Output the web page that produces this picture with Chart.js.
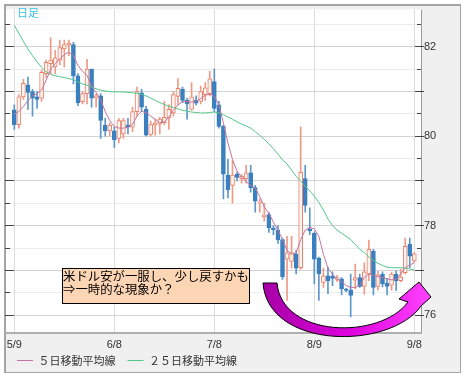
<!DOCTYPE html>
<html>
<head>
<meta charset="utf-8">
<script src="https://cdn.jsdelivr.net/npm/chart.js@4.4.0/dist/chart.umd.min.js"></script>
<style>
html, body { margin: 0; padding: 0; background: #fff; }
#wrap { width: 466px; height: 376px; }
</style>
</head>
<body>
<div id="wrap"><canvas id="myChart" width="466" height="376"></canvas></div>
<script>
// trading days, 2011
var dates = ['5/9','5/10','5/11','5/12','5/13','5/16','5/17','5/18','5/19','5/20','5/23','5/24','5/25','5/26','5/27','5/30','5/31',
    '6/1','6/2','6/3','6/6','6/7','6/8','6/9','6/10','6/13','6/14','6/15','6/16','6/17','6/20','6/21','6/22','6/23','6/24','6/27','6/28','6/29','6/30',
    '7/1','7/4','7/5','7/6','7/7','7/8','7/11','7/12','7/13','7/14','7/15','7/18','7/19','7/20','7/21','7/22','7/25','7/26','7/27','7/28','7/29',
    '8/1','8/2','8/3','8/4','8/5','8/8','8/9','8/10','8/11','8/12','8/15','8/16','8/17','8/18','8/19','8/22','8/23','8/24','8/25','8/26','8/29','8/30','8/31',
    '9/1','9/2','9/5','9/6','9/7','9/8'];

var openP = [80.59,80.26,80.88,81.15,81.00,80.88,80.85,81.40,81.62,81.55,
    81.70,81.95,82.04,82.05,81.35,80.77,80.95,81.50,80.85,80.90,
    80.25,80.12,80.12,79.95,80.05,80.25,80.20,80.55,80.97,80.60,
    80.04,80.25,80.27,80.30,80.41,80.52,80.89,81.05,80.80,80.60,
    80.80,80.78,80.92,80.95,81.22,80.70,80.22,79.13,78.90,79.15,
    79.05,79.05,79.18,78.85,78.50,78.20,78.25,77.95,77.90,77.69,
    77.25,77.20,77.36,77.06,79.05,77.93,77.83,77.27,76.73,76.88,
    76.87,76.80,76.81,76.58,76.56,76.78,76.84,76.64,76.92,77.43,
    76.64,76.91,76.71,76.67,76.91,76.77,76.95,77.58,77.21];
var highP = [80.70,80.93,81.27,81.32,81.05,81.00,81.48,81.70,82.20,81.92,
    82.15,82.15,82.15,82.10,81.40,81.00,81.72,81.50,80.95,80.95,
    80.40,80.30,80.20,80.40,80.40,80.40,80.65,81.10,81.05,80.67,
    80.34,80.38,80.42,80.78,80.70,81.00,81.29,81.10,80.85,81.20,
    80.90,81.12,81.20,81.45,81.50,80.78,80.25,79.48,79.45,79.20,
    79.15,79.35,79.35,78.90,78.60,78.50,78.30,78.00,78.00,77.72,
    77.76,77.76,77.45,80.21,79.35,78.40,77.86,77.30,77.05,77.07,
    76.97,76.89,76.84,76.60,76.92,77.14,76.92,77.17,77.68,77.47,
    76.98,76.97,76.82,76.96,76.99,77.03,77.72,77.72,77.40];
var lowP = [80.15,80.18,80.82,80.60,80.45,80.62,80.78,81.30,81.40,81.40,
    81.60,81.55,81.80,81.17,80.68,80.72,80.72,80.65,80.65,79.95,
    80.00,80.00,79.75,79.85,79.95,80.05,80.10,80.45,80.55,80.00,
    80.00,80.02,80.05,80.26,80.15,80.45,80.71,80.75,80.38,80.58,
    80.70,80.72,80.80,80.90,80.55,80.18,78.60,78.62,78.50,79.00,
    78.95,78.95,78.75,78.30,78.30,78.10,77.85,77.80,77.60,76.80,
    76.33,77.05,76.92,77.02,78.30,77.80,76.70,76.33,76.62,76.48,
    76.66,76.75,76.45,76.52,75.96,76.59,76.62,76.47,76.77,76.45,
    76.56,76.63,76.45,76.56,76.55,76.74,76.92,77.06,77.18];
var closeP = [80.26,80.88,81.18,80.98,80.85,80.82,81.43,81.65,81.70,81.75,
    81.98,82.05,82.08,81.35,80.75,80.95,81.50,80.85,80.90,80.35,
    80.12,80.25,79.92,80.35,80.35,80.20,80.55,81.00,80.65,80.02,
    80.26,80.30,80.38,80.42,80.60,80.93,81.07,80.80,80.72,80.88,
    80.74,81.00,81.08,81.28,80.62,80.22,79.15,78.80,79.13,79.08,
    79.10,79.18,78.85,78.55,78.53,78.24,77.95,77.91,77.68,76.86,
    77.39,77.40,77.05,79.19,78.45,77.88,77.25,76.92,76.88,76.77,
    76.82,76.84,76.59,76.55,76.44,76.84,76.64,76.97,77.47,76.62,
    76.90,76.70,76.64,76.92,76.77,76.85,77.54,77.32,77.37];

var ma5 = [80.49,80.55,80.66,80.80,80.90,80.95,81.03,81.25,81.50,81.62,
    81.73,81.82,81.88,81.80,81.58,81.45,81.36,81.12,80.98,80.82,
    80.55,80.35,80.22,80.18,80.18,80.20,80.26,80.45,80.56,80.52,
    80.45,80.38,80.30,80.32,80.43,80.58,80.70,80.77,80.78,80.76,
    80.78,80.84,80.92,80.94,80.89,80.71,80.29,79.85,79.48,79.22,
    79.08,78.98,78.90,78.84,78.65,78.42,78.28,78.08,77.90,77.69,
    77.45,77.36,77.39,77.69,77.90,77.96,77.93,77.76,77.36,77.05,
    76.92,76.80,76.75,76.66,76.62,76.62,76.66,76.84,76.92,76.88,
    76.86,76.84,76.81,76.79,76.80,76.92,77.06,77.12,77.17];
var ma25 = [82.48,82.30,82.12,81.95,81.80,81.66,81.54,81.44,81.38,81.35,
    81.33,81.31,81.29,81.26,81.21,81.17,81.14,81.10,81.06,81.03,
    81.01,81.00,80.99,80.99,80.99,80.98,80.97,80.96,80.94,80.90,
    80.85,80.80,80.75,80.71,80.67,80.64,80.61,80.58,80.56,80.54,
    80.53,80.52,80.52,80.53,80.54,80.52,80.48,80.43,80.38,80.32,
    80.27,80.23,80.18,80.10,80.02,79.93,79.83,79.72,79.60,79.47,
    79.38,79.24,79.10,79.00,78.88,78.78,78.66,78.52,78.35,78.15,
    78.00,77.90,77.83,77.76,77.69,77.58,77.47,77.40,77.30,77.22,
    77.16,77.11,77.07,77.06,77.06,77.06,77.05,77.03,77.01];

var seriesNames = ['５日移動平均線', '２５日移動平均線'];
var xTickIdx = [0, 22, 44, 66, 88];
var yTickLabels = [76, 78, 80, 82];
var periodLabel = '日足';
var noteLines = ['米ドル安が一服し、少し戻すかも', '⇒一時的な現象か？'];

var upLine = '#e8836b', upFill = '#fff3ef', upWick = '#ee9a86';
var downFill = '#3a7fbf', downWick = '#5d96cc';

var isUp = closeP.map(function (c, i) { return c >= openP[i]; });
var bodyData = dates.map(function (d, i) { return { x: i, y: [openP[i], closeP[i]] }; });
var wickData = dates.map(function (d, i) { return { x: i, y: [lowP[i], highP[i]] }; });
var ma5Data = ma5.map(function (v, i) { return { x: i, y: v }; });
var ma25Data = ma25.map(function (v, i) { return { x: i, y: v }; });

var framePlugin = {
    id: 'frame',
    beforeDraw: function (chart) {
        var c = chart.ctx, a = chart.chartArea;
        c.save();
        c.fillStyle = '#ffffff';
        c.fillRect(0, 0, chart.width, chart.height);
        c.fillStyle = '#f0f0f0';
        c.fillRect(4, 4, 457, 369);
        c.fillStyle = '#ffffff';
        c.fillRect(a.left, a.top, a.right - a.left, a.bottom - a.top);
        c.restore();
    },
    afterDraw: function (chart) {
        var c = chart.ctx, a = chart.chartArea, ys = chart.scales.y;
        c.save();

        // frame lines
        c.strokeStyle = '#a4a4a4';
        c.lineWidth = 2;
        c.beginPath();
        c.moveTo(4, 5); c.lineTo(461, 5);
        c.moveTo(5, 4); c.lineTo(5, 373);
        c.stroke();
        c.lineWidth = 1;
        c.beginPath();
        c.moveTo(460.5, 4); c.lineTo(460.5, 373);
        c.moveTo(4, 372.5); c.lineTo(461, 372.5);
        c.stroke();
        c.strokeStyle = '#9a9a9a';
        c.beginPath();
        c.moveTo(a.right + 0.5, a.top); c.lineTo(a.right + 0.5, a.bottom);
        c.stroke();
        c.strokeStyle = '#b0b0b0';
        c.lineWidth = 2;
        c.beginPath();
        c.moveTo(a.left, a.bottom); c.lineTo(a.right + 1, a.bottom);
        c.stroke();

        // tick marks on both sides
        c.strokeStyle = '#444';
        c.lineWidth = 1;
        c.beginPath();
        ys.ticks.forEach(function (t) {
            var py = Math.round(ys.getPixelForValue(t.value) - 0.5) + 0.5;
            var major = Math.abs(t.value % 1) < 1e-6;
            c.moveTo(a.left, py); c.lineTo(a.left + (major ? 9 : 5), py);
            c.moveTo(a.right - (major ? 6 : 4), py); c.lineTo(a.right + (major ? 3 : 0), py);
        });
        c.stroke();

        // period label
        c.fillStyle = '#3cc0ea';
        c.font = "11px 'Noto Sans CJK JP'";
        c.textBaseline = 'middle';
        c.fillText(periodLabel, 17, 13);

        // note box
        c.fillStyle = '#fcd5b4';
        c.fillRect(62, 268, 187, 35);
        c.strokeStyle = '#000';
        c.strokeRect(62.5, 268.5, 187, 35);
        c.fillStyle = '#000';
        c.font = "12.4px 'Noto Sans CJK JP'";
        c.fillText(noteLines[0], 63, 276);
        c.fillText(noteLines[1], 63, 289);

        // curved arrow
        var g = c.createLinearGradient(263, 0, 432, 0);
        g.addColorStop(0, '#a600a6');
        g.addColorStop(0.5, '#dd00dd');
        g.addColorStop(1, '#ff44ff');
        c.fillStyle = g;
        c.strokeStyle = '#000';
        c.lineWidth = 1;
        c.beginPath();
        c.moveTo(263, 283);
        c.bezierCurveTo(268, 350, 390, 350, 421, 306);
        c.lineTo(431, 297);
        c.lineTo(419, 282);
        c.lineTo(399, 299);
        c.lineTo(408, 302);
        c.bezierCurveTo(380, 340, 282, 338, 277, 283);
        c.closePath();
        c.fill();
        c.stroke();

        c.restore();
    }
};

var ctx = document.getElementById('myChart').getContext('2d');
var myChart = new Chart(ctx, {
    type: 'bar',
    data: {
        datasets: [{
            type: 'line',
            label: seriesNames[0],
            data: ma5Data,
            borderColor: '#c474a0',
            backgroundColor: '#c474a0',
            borderWidth: 1,
            pointRadius: 0,
            order: 0
        }, {
            type: 'line',
            label: seriesNames[1],
            data: ma25Data,
            borderColor: '#52c88a',
            backgroundColor: '#52c88a',
            borderWidth: 1,
            pointRadius: 0,
            order: 0
        }, {
            label: 'body',
            data: bodyData,
            grouped: false,
            barThickness: 4,
            minBarLength: 1,
            borderSkipped: false,
            borderWidth: 1,
            backgroundColor: isUp.map(function (u) { return u ? upFill : downFill; }),
            borderColor: isUp.map(function (u) { return u ? upLine : downFill; }),
            order: 1
        }, {
            label: 'wick',
            data: wickData,
            grouped: false,
            barThickness: 1,
            borderWidth: 0,
            backgroundColor: isUp.map(function (u) { return u ? upWick : downWick; }),
            order: 2
        }]
    },
    options: {
        responsive: false,
        animation: false,
        devicePixelRatio: 1,
        layout: { padding: { left: 5, top: 5, right: 0, bottom: 0 } },
        plugins: {
            tooltip: { enabled: false },
            legend: {
                position: 'bottom',
                align: 'start',
                labels: {
                    usePointStyle: true,
                    pointStyle: 'line',
                    pointStyleWidth: 16,
                    padding: 12,
                    color: '#333',
                    font: { family: "'Noto Sans CJK JP'", size: 11 },
                    filter: function (item) { return item.datasetIndex < 2; }
                }
            }
        },
        scales: {
            x: {
                type: 'linear',
                min: -2.05,
                max: 89.47,
                offset: false,
                afterBuildTicks: function (s) { s.ticks = xTickIdx.map(function (v) { return { value: v }; }); },
                afterFit: function (s) { s.height = 10; },
                grid: { color: '#dcdcdc', drawTicks: false, offset: false },
                border: { display: false },
                ticks: {
                    // mirrored so the labels are not clipped to the thin axis box
                    mirror: true,
                    padding: -19,
                    maxRotation: 0,
                    autoSkip: false,
                    color: '#333',
                    font: { family: "'Liberation Sans'", size: 11 },
                    callback: function (v) { return dates[v]; }
                }
            },
            y: {
                position: 'right',
                min: 75.6,
                max: 82.83,
                beginAtZero: false,
                afterFit: function (s) { s.width = 45; },
                grid: {
                    drawTicks: false,
                    color: function (c) {
                        return (c.tick && Math.abs(c.tick.value % 1) < 1e-6) ? '#d4d4d4' : '#ececec';
                    }
                },
                border: { display: false },
                ticks: {
                    stepSize: 0.5,
                    includeBounds: false,
                    padding: 3,
                    color: '#333',
                    font: { family: "'Liberation Sans'", size: 11 },
                    callback: function (v) { return yTickLabels.indexOf(v) >= 0 ? String(v) : ''; }
                }
            }
        }
    },
    plugins: [framePlugin]
});
</script>
</body>
</html>
